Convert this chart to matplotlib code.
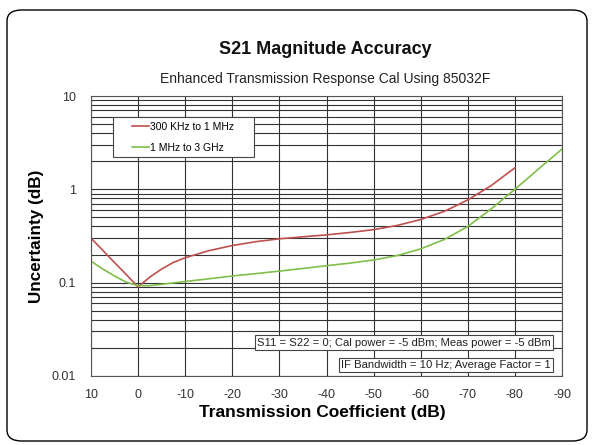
import matplotlib
matplotlib.use("Agg")
import matplotlib.pyplot as plt
from matplotlib.patches import FancyBboxPatch, Rectangle
from matplotlib.ticker import FixedLocator, LogLocator, NullFormatter

plt.rcParams['font.family'] = ['Liberation Sans', 'DejaVu Sans']

# Data
x_red = [10, 7.5, 5, 2.5, 0, -2.5, -5, -7.5, -10, -15, -20, -25, -30, -35, -40,
         -45, -50, -55, -60, -65, -70, -75, -80]
y_red = [0.30, 0.222, 0.164, 0.122, 0.09, 0.115, 0.14, 0.165, 0.185, 0.22, 0.25,
         0.275, 0.295, 0.31, 0.325, 0.345, 0.37, 0.41, 0.475, 0.58, 0.77, 1.1, 1.7]
x_green = [10, 7.5, 5, 2.5, 0, -2.5, -5, -10, -15, -20, -25, -30, -35, -40, -45,
           -50, -55, -60, -65, -70, -75, -80, -85, -90]
y_green = [0.17, 0.14, 0.118, 0.101, 0.093, 0.093, 0.096, 0.103, 0.11, 0.118, 0.125,
           0.133, 0.142, 0.152, 0.162, 0.175, 0.195, 0.23, 0.29, 0.40, 0.62, 1.0, 1.65, 2.7]
series_names = ["300 KHz to 1 MHz", "1 MHz to 3 GHz"]
x_ticks = [10, 0, -10, -20, -30, -40, -50, -60, -70, -80, -90]
y_ticks = [0.01, 0.1, 1, 10]
y_tick_labels = ["0.01", "0.1", "1", "10"]

W, H = 593, 445
fig = plt.figure(figsize=(W / 100, H / 100), dpi=100)
fig.patch.set_facecolor('white')

# outer rounded frame
frame = FancyBboxPatch((7 / W, 4 / H), 580 / W, 431 / H,
                       boxstyle="round,pad=0,rounding_size=0.025",
                       transform=fig.transFigure, facecolor='none',
                       edgecolor='black', linewidth=1.0)
fig.patches.append(frame)

AX_L, AX_R, AX_T, AX_B = 91, 562, 96, 376
aw, ah = AX_R - AX_L, AX_B - AX_T
ax = fig.add_axes([AX_L / W, 1 - AX_B / H, aw / W, ah / H])
ax.set_yscale('log')
ax.set_xlim(10, -90)
ax.set_ylim(0.01, 10)

def axx(px):
    return (px - AX_L) / aw

def axy(py):
    return 1 - (py - AX_T) / ah

ax.xaxis.set_major_locator(FixedLocator(x_ticks))
ax.set_xticklabels([str(t) for t in x_ticks])
ax.yaxis.set_major_locator(FixedLocator(y_ticks))
ax.yaxis.set_minor_locator(LogLocator(base=10, subs=range(2, 10)))
ax.yaxis.set_minor_formatter(NullFormatter())
ax.set_yticklabels(y_tick_labels)

ax.grid(True, which='major', axis='both', color='#333333', linewidth=0.8)
ax.grid(True, which='minor', axis='y', color='#333333', linewidth=0.8)
ax.tick_params(which='both', length=0)
ax.tick_params(axis='x', pad=9, labelsize=9, labelcolor='#333333')
ax.tick_params(axis='y', pad=11, labelsize=9, labelcolor='#333333')
for s in ax.spines.values():
    s.set_color('#555555')
    s.set_linewidth(0.8)

l1, = ax.plot(x_red, y_red, color='#c0504d', linewidth=1.2, label=series_names[0])
l2, = ax.plot(x_green, y_green, color='#7fbf4a', linewidth=1.2, label=series_names[1])

# legend frame (drawn separately to get wide horizontal padding)
ax.add_patch(Rectangle((axx(113), axy(157)), axx(254) - axx(113), axy(117) - axy(157),
                       transform=ax.transAxes, facecolor='white', edgecolor='#444444',
                       linewidth=0.8, zorder=4))
leg = ax.legend(handles=[l1, l2], loc='center left',
                bbox_to_anchor=(axx(132), axy(137.5)),
                fontsize=7.5, frameon=False, borderpad=0, borderaxespad=0,
                labelspacing=1.05, handlelength=1.6, handletextpad=0.1)
leg.set_zorder(5)

bbox_props = dict(boxstyle='square,pad=0.2', facecolor='white', edgecolor='#444444', linewidth=0.8)
ax.text(axx(551), axy(342.5), "S11 = S22 = 0; Cal power = -5 dBm; Meas power = -5 dBm",
        transform=ax.transAxes, ha='right', va='center', fontsize=8.1, bbox=bbox_props,
        color='#222222', zorder=6)
ax.text(axx(551), axy(365), "IF Bandwidth = 10 Hz; Average Factor = 1",
        transform=ax.transAxes, ha='right', va='center', fontsize=8.1, bbox=bbox_props,
        color='#222222', zorder=6)

fig.text(325 / W, 1 - 50 / H, "S21 Magnitude Accuracy", ha='center', va='center',
         fontsize=13, fontweight='bold', color='#111111')
fig.text(325 / W, 1 - 79 / H, "Enhanced Transmission Response Cal Using 85032F", ha='center',
         va='center', fontsize=10, color='#222222')
ax.set_xlabel("Transmission Coefficient (dB)", fontsize=12.5, fontweight='bold', labelpad=3)
ax.xaxis.label.set_x(axx(322))
ax.set_ylabel("Uncertainty (dB)", fontsize=12.3, fontweight='bold', labelpad=5)

fig.savefig("out.png", dpi=100)
